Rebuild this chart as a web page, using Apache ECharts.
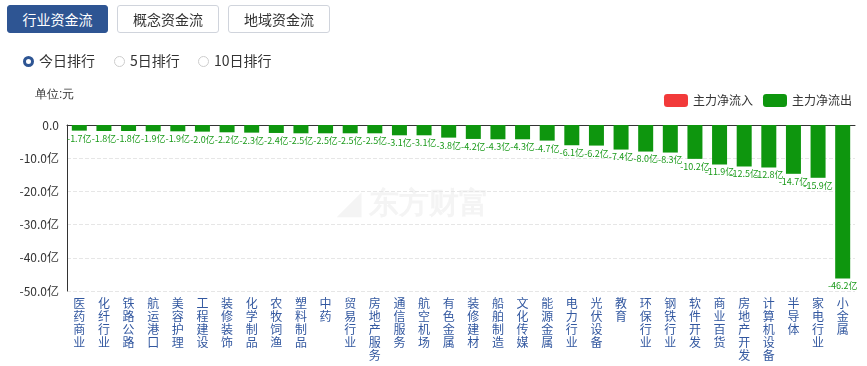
<!DOCTYPE html>
<html><head><meta charset="utf-8">
<script src="https://cdn.jsdelivr.net/npm/echarts@6/dist/echarts.min.js"></script>
<style>
html,body{margin:0;padding:0;background:#fff;font-family:"Microsoft YaHei","Noto Sans CJK SC",sans-serif;}
#wrap{position:relative;width:867px;height:366px;overflow:hidden;}
#chart{position:absolute;left:0;top:0;width:867px;height:366px;}
.btn{position:absolute;top:5px;height:28px;box-sizing:border-box;border:1px solid #d0d4dc;border-radius:3px;background:#fff;color:#333;font-size:14px;line-height:26px;text-align:center;}
.btn.on{background:#2e5593;color:#fff;border-color:#2e5593;}
.radio{position:absolute;top:51px;font-size:14px;color:#333;line-height:18px;}
.dot{display:inline-block;width:11px;height:11px;border-radius:50%;border:1px solid #ccc;box-sizing:border-box;vertical-align:-1px;margin-right:5px;}
.dot.on{border:3.5px solid #2e5593;}
</style></head><body>
<div id="wrap">
<div id="chart"></div>
<div class="btn on" style="left:7px;width:101px;">行业资金流</div>
<div class="btn" style="left:117px;width:102px;">概念资金流</div>
<div class="btn" style="left:228px;width:102px;">地域资金流</div>
<div class="radio" style="left:23px;"><span class="dot on"></span>今日排行</div>
<div class="radio" style="left:114px;"><span class="dot"></span>5日排行</div>
<div class="radio" style="left:198px;"><span class="dot"></span>10日排行</div>
</div>
<script>
var categories = ["医药商业","化纤行业","铁路公路","航运港口","美容护理","工程建设","装修装饰","化学制品","农牧饲渔","塑料制品","中药","贸易行业","房地产服务","通信服务","航空机场","有色金属","装修建材","船舶制造","文化传媒","能源金属","电力行业","光伏设备","教育","环保行业","钢铁行业","软件开发","商业百货","房地产开发","计算机设备","半导体","家电行业","小金属"];
var outflow = [-1.7,-1.8,-1.8,-1.9,-1.9,-2.0,-2.2,-2.3,-2.4,-2.5,-2.5,-2.5,-2.5,-3.1,-3.1,-3.8,-4.2,-4.3,-4.3,-4.7,-6.1,-6.2,-7.4,-8.0,-8.3,-10.2,-11.9,-12.5,-12.8,-14.7,-15.9,-46.2];
var inflow = categories.map(function(){return null;});
var yTicks = {min:-50, max:0, interval:10};

var chart = echarts.init(document.getElementById('chart'));
chart.setOption({
  animation:false,
  textStyle:{fontFamily:'"Microsoft YaHei","Noto Sans CJK SC",sans-serif'},
  graphic:[
    {type:'text', left:35, top:89, style:{text:'单位:元', fill:'#333', fontSize:12}},
    {type:'text', left:338, top:190, z:-1, style:{text:'◢ 东方财富', fill:'#f4f4f4', fontSize:30, fontWeight:'bold'}}
  ],
  legend:{
    right:10, top:89, itemWidth:24, itemHeight:13, itemGap:10,
    textStyle:{fontSize:12, color:'#333'},
    data:[{name:'主力净流入', itemStyle:{color:'#f23a3a'}},{name:'主力净流出', itemStyle:{color:'#0e960e'}}]
  },
  grid:{left:67, top:125, right:12, bottom:75},
  xAxis:[{
    type:'category', data:categories, position:'bottom',
    axisLine:{show:false, onZero:false}, axisTick:{show:false},
    axisLabel:{interval:0, color:'#3358a0', fontSize:12, lineHeight:13, margin:6,
      formatter:function(v){return v.split('').join('\n');}}
  },{
    type:'category', data:categories, position:'top',
    axisLine:{show:true, onZero:false, lineStyle:{color:'#333', width:1}}, axisTick:{show:false}, axisLabel:{show:false}
  }],
  yAxis:{
    type:'value', min:yTicks.min, max:yTicks.max, interval:yTicks.interval,
    axisLine:{show:true, lineStyle:{color:'#333'}}, axisTick:{show:false},
    axisLabel:{color:'#333', fontSize:12, margin:8, formatter:function(v){return v===0?'0.0':v.toFixed(1)+'亿';}},
    splitLine:{lineStyle:{type:'dashed', color:'#e6e6e6'}}
  },
  series:[
    {name:'主力净流入', type:'bar', stack:'a', data:inflow, itemStyle:{color:'#f23a3a'}, barWidth:15},
    {name:'主力净流出', type:'bar', stack:'a', data:outflow, barWidth:15,
     itemStyle:{color:'#0e960e'},
     label:{show:true, position:'bottom', distance:3, color:'#1a9a1a', fontSize:9,
       formatter:function(p){return p.value.toFixed(1)+'亿';}}}
  ]
});
</script>
</body></html>
